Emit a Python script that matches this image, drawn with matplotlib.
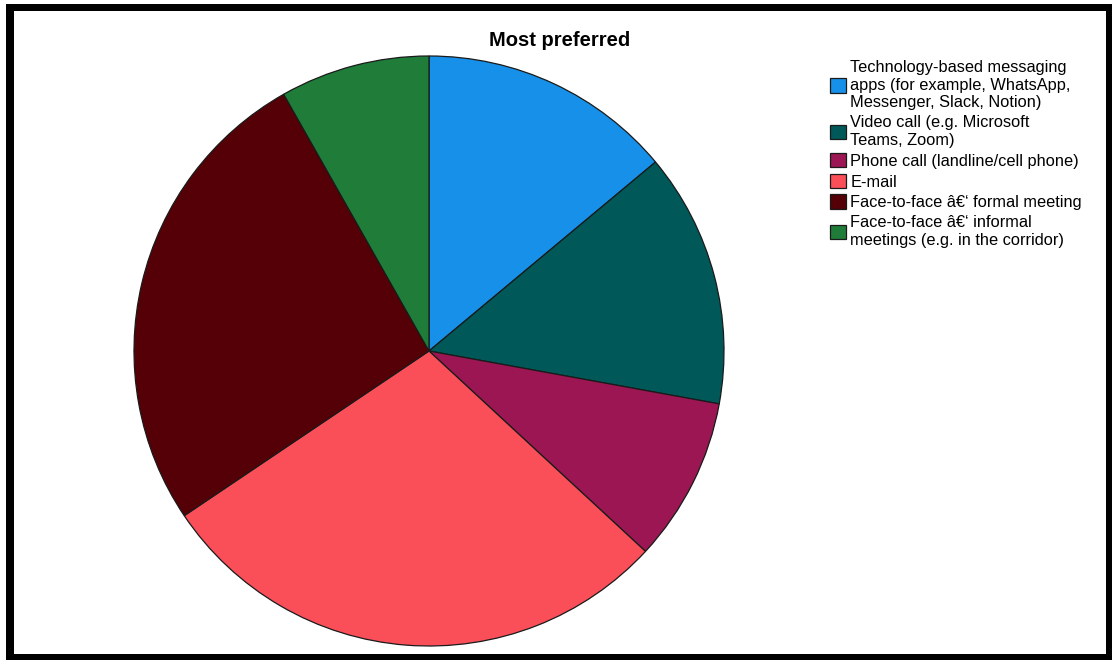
import matplotlib.pyplot as plt
from matplotlib.patches import Rectangle

# --- Datos ---
categorias = [
    "Technology-based messaging\napps (for example, WhatsApp,\nMessenger, Slack, Notion)",
    "Video call (e.g. Microsoft\nTeams, Zoom)",
    "Phone call (landline/cell phone)",
    "E-mail",
    "Face-to-face \u00e2\u20ac\u2018 formal meeting",
    "Face-to-face \u00e2\u20ac\u2018 informal\nmeetings (e.g. in the corridor)",
]
valores = [17, 17, 11, 35, 32, 10]
colores = ["#1690E8", "#005859", "#9B1652", "#FA4E58", "#540006", "#1F7D39"]

plt.rcParams['font.family'] = ['Liberation Sans', 'DejaVu Sans']

W, H = 1112, 660
fig = plt.figure(figsize=(W / 100, H / 100), dpi=100)

# Marco negro
fig.patches.append(Rectangle((6 / W, 0), 1 - 6 / W, 1 - 4 / H, transform=fig.transFigure,
                             facecolor='black', edgecolor='none', zorder=-2))
fig.patches.append(Rectangle((14 / W, 6 / H), (1106 - 14) / W, (654 - 11) / H,
                             transform=fig.transFigure, facecolor='white',
                             edgecolor='none', zorder=-1))

# Pastel
cx, cy, r = 429, 351, 295
ax = fig.add_axes([(cx - r) / W, (H - cy - r) / H, 2 * r / W, 2 * r / H])
cunas, _ = ax.pie(valores, colors=colores, startangle=90, counterclock=False,
                  wedgeprops=dict(edgecolor='#1a1a1a', linewidth=0.9))
ax.set_xlim(-1, 1)
ax.set_ylim(-1, 1)
ax.axis('off')

fig.text(560 / W, 1 - 40 / H, "Most preferred", ha='center', va='center',
         fontsize=14.5, fontweight='bold')

leg = fig.legend(cunas, categorias, loc='upper left', bbox_to_anchor=(830 / W, 1 - 60 / H),
                 frameon=False, fontsize=11.8, handlelength=1.0, handleheight=1.0,
                 handletextpad=0.25, labelspacing=0.3, borderpad=0, borderaxespad=0)
for t in leg.get_texts():
    t.set_linespacing(1.22)

fig.savefig("out.png", dpi=100)
